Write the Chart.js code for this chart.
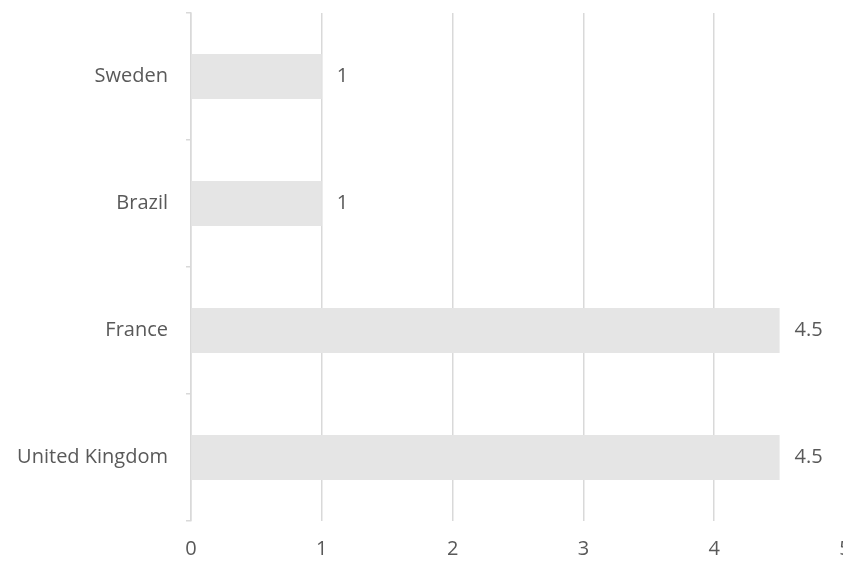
<!DOCTYPE html>
<html>
<head>
<meta charset="utf-8">
<script src="https://cdn.jsdelivr.net/npm/chart.js@4.4.1/dist/chart.umd.min.js"></script>
<style>
  html, body { margin: 0; padding: 0; background: #fff; overflow: hidden; }
  #wrap { width: 870px; height: 562px; }
</style>
</head>
<body>
<div id="wrap"><canvas id="chart" width="870" height="562"></canvas></div>
<script>
// data
const countries = ['Sweden', 'Brazil', 'France', 'United Kingdom'];
const values = [1, 1, 4.5, 4.5];
const xTicks = [0, 1, 2, 3, 4, 5];

const textColor = '#595959';
const gridColor = '#d9d9d9';
const font = { family: '"Open Sans", sans-serif', size: 20 };

// value labels to the right of each bar
const valueLabels = {
  id: 'valueLabels',
  afterDatasetsDraw(chart) {
    const ctx = chart.ctx;
    const meta = chart.getDatasetMeta(0);
    ctx.save();
    ctx.font = `${font.size}px ${font.family}`;
    ctx.fillStyle = textColor;
    ctx.textAlign = 'left';
    ctx.textBaseline = 'middle';
    meta.data.forEach((bar, i) => {
      ctx.fillText(String(values[i]), bar.x + 15, bar.y);
    });
    ctx.restore();
  }
};

new Chart(document.getElementById('chart'), {
  type: 'bar',
  data: {
    labels: countries,
    datasets: [{
      data: values,
      backgroundColor: '#e5e5e5',
      borderWidth: 0,
      categoryPercentage: 1,
      barPercentage: 0.355
    }]
  },
  options: {
    indexAxis: 'y',
    responsive: false,
    animation: false,
    layout: { padding: { top: 13, right: 25, left: 0, bottom: 0 } },
    plugins: {
      legend: { display: false },
      tooltip: { enabled: false }
    },
    scales: {
      x: {
        min: 0,
        max: 5,
        afterBuildTicks: (scale) => { scale.ticks = xTicks.map(v => ({ value: v })); },
        afterFit: (scale) => { scale.height = 41; },
        border: { display: false },
        grid: { color: gridColor, lineWidth: 1.5, drawTicks: false },
        ticks: { color: textColor, font: font, padding: 16, maxRotation: 0 }
      },
      y: {
        afterFit: (scale) => {
          scale.width = 191;
          scale.paddingTop = 0;
          scale.paddingBottom = 0;
        },
        border: { display: true, color: gridColor, width: 1.5 },
        grid: { offset: true, drawOnChartArea: false, drawTicks: true, tickLength: 5, color: gridColor, lineWidth: 1.5 },
        ticks: { color: textColor, font: font, padding: 18 }
      }
    }
  },
  plugins: [valueLabels]
});
</script>
</body>
</html>
